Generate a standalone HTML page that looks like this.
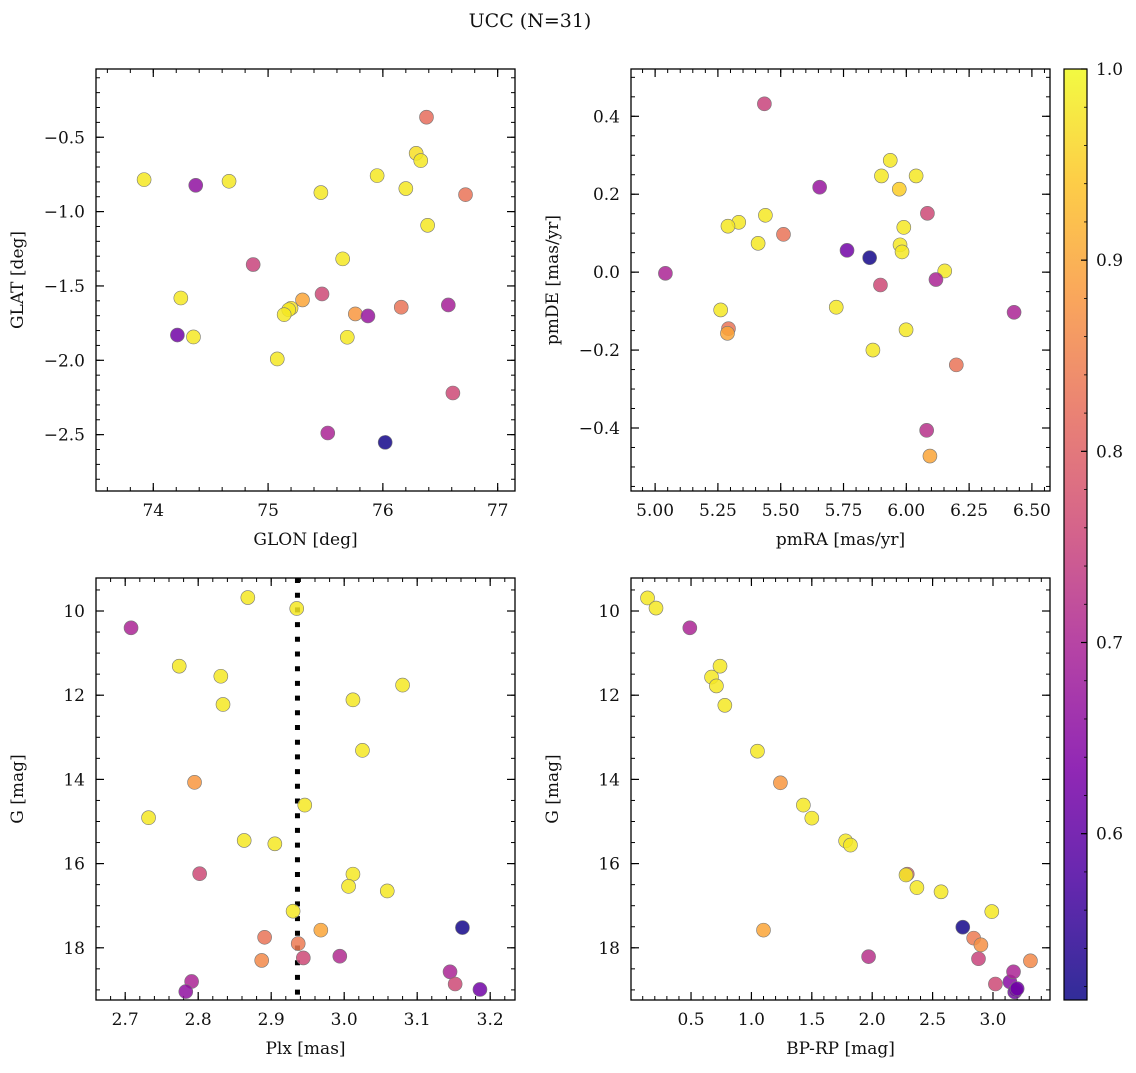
<!DOCTYPE html>
<html><head><meta charset="utf-8"><style>
body{margin:0;background:#fff;width:1136px;height:1068px;overflow:hidden}
svg text{font-family:"DejaVu Serif","Liberation Serif",serif;fill:#111}
</style></head><body>
<svg id="fig" width="1136" height="1068" xmlns="http://www.w3.org/2000/svg">
<text x="530" y="27" font-size="19" text-anchor="middle">UCC (N=31)</text>
<defs><linearGradient id="cbg" x1="0" y1="1" x2="0" y2="0">
<stop offset="0" stop-color="#0d0887"/><stop offset="0.13" stop-color="#4c02a1"/><stop offset="0.25" stop-color="#7e03a8"/><stop offset="0.38" stop-color="#a92395"/><stop offset="0.5" stop-color="#cc4778"/><stop offset="0.63" stop-color="#e66c5c"/><stop offset="0.75" stop-color="#f89540"/><stop offset="0.88" stop-color="#fdc527"/><stop offset="1" stop-color="#f0f921"/></linearGradient></defs>
</svg>
<script>
const tlX=[73.92,74.37,74.66,75.46,75.95,76.29,76.33,76.38,76.20,76.72,76.39,74.87,75.65,74.24,75.47,75.30,75.20,75.18,75.14,75.76,75.87,76.16,76.57,74.21,74.35,75.69,75.08,76.61,75.52,76.02];
const tlY=[-0.785,-0.823,-0.796,-0.872,-0.758,-0.608,-0.657,-0.365,-0.845,-0.886,-1.092,-1.356,-1.318,-1.581,-1.554,-1.594,-1.650,-1.660,-1.693,-1.688,-1.702,-1.643,-1.628,-1.830,-1.843,-1.845,-1.991,-2.220,-2.489,-2.552];
const tlP=[0.98,0.66,0.98,0.98,0.98,0.97,0.98,0.82,0.98,0.83,0.98,0.75,0.98,0.98,0.76,0.9,0.97,0.98,0.98,0.88,0.67,0.83,0.69,0.62,0.98,0.98,0.98,0.76,0.7,0.52];
const trX=[5.435,5.936,5.901,6.039,5.972,5.655,6.084,5.990,5.439,5.333,5.290,5.511,5.410,5.764,5.854,5.975,5.983,5.041,6.153,6.118,5.897,5.261,5.721,5.292,5.288,5.999,5.867,6.199,6.429,6.081,6.094];
const trY=[0.432,0.287,0.247,0.247,0.213,0.218,0.151,0.115,0.146,0.128,0.118,0.097,0.074,0.056,0.037,0.070,0.052,-0.003,0.003,-0.019,-0.033,-0.097,-0.090,-0.145,-0.157,-0.148,-0.200,-0.238,-0.103,-0.406,-0.472];
const trP=[0.75,0.98,0.98,0.98,0.95,0.67,0.76,0.98,0.98,0.98,0.98,0.83,0.98,0.62,0.52,0.98,0.98,0.7,0.98,0.7,0.76,0.98,0.98,0.83,0.9,0.98,0.98,0.83,0.7,0.72,0.9];
const blX=[2.868,2.935,2.708,2.774,2.831,2.834,3.080,3.012,3.025,2.795,2.946,2.732,2.863,2.905,2.802,3.012,3.006,3.059,2.930,3.162,2.968,2.891,2.937,2.887,2.944,2.994,2.791,2.783,3.145,3.152,3.186];
const blY=[9.68,9.94,10.40,11.31,11.55,12.22,11.76,12.11,13.31,14.07,14.61,14.91,15.45,15.53,16.24,16.25,16.54,16.65,17.13,17.52,17.58,17.75,17.90,18.30,18.24,18.20,18.80,19.04,18.57,18.86,18.99];
const blP=[0.98,0.98,0.7,0.98,0.98,0.98,0.98,0.98,0.98,0.88,0.98,0.98,0.98,0.98,0.76,0.98,0.98,0.98,0.98,0.52,0.9,0.83,0.84,0.86,0.76,0.71,0.7,0.66,0.7,0.76,0.62];
const brX=[0.14,0.21,0.49,0.74,0.67,0.71,0.78,1.05,1.24,1.43,1.50,1.78,1.82,2.29,2.28,2.37,2.57,2.99,1.10,1.97,2.75,2.84,2.90,2.88,3.31,3.02,3.14,3.17,3.18,3.19,3.20];
const brY=[9.69,9.93,10.40,11.31,11.57,11.78,12.24,13.33,14.08,14.61,14.92,15.46,15.56,16.25,16.27,16.57,16.67,17.14,17.58,18.21,17.51,17.77,17.93,18.26,18.31,18.86,18.81,18.57,19.05,19.00,18.97];
const brP=[0.98,0.98,0.7,0.98,0.98,0.98,0.98,0.98,0.88,0.98,0.98,0.98,0.98,0.8,0.98,0.98,0.98,0.98,0.9,0.72,0.52,0.84,0.87,0.75,0.86,0.76,0.65,0.7,0.62,0.62,0.62];
const plxLine=2.936;
const cbTicks=[0.6,0.7,0.8,0.9,1.0];
const pMin=0.513, pMax=1.0;

const NS='http://www.w3.org/2000/svg';
const svg=document.getElementById('fig');
function mk(tag,attrs,parent){const e=document.createElementNS(NS,tag);for(const k in attrs)e.setAttribute(k,attrs[k]);(parent||svg).appendChild(e);return e;}
const stops=[[0,[13,8,135]],[0.13,[76,2,161]],[0.25,[126,3,168]],[0.38,[169,35,149]],[0.5,[204,71,120]],[0.63,[230,108,92]],[0.75,[248,149,64]],[0.88,[253,197,39]],[1,[240,249,33]]];
function plasma(p){let t=(p-pMin)/(pMax-pMin);t=Math.max(0,Math.min(1,t));for(let i=1;i<stops.length;i++){if(t<=stops[i][0]){const a=stops[i-1],b=stops[i];const f=(t-a[0])/(b[0]-a[0]);const c=a[1].map((v,j)=>Math.round(v+(b[1][j]-v)*f));return 'rgb('+c.join(',')+')';}}return 'rgb(240,249,33)';}

function panel(o){
  const g=mk('g',{});
  
  
  const sx=v=>o.x0+(v-o.xmin)/(o.xmax-o.xmin)*(o.x1-o.x0);
  const sy=v=>o.inv? o.y0+(v-o.ymin)/(o.ymax-o.ymin)*(o.y1-o.y0) : o.y1-(v-o.ymin)/(o.ymax-o.ymin)*(o.y1-o.y0);
  const tk=(lo,hi,step)=>{const r=[];const n0=Math.ceil(lo/step-1e-6);for(let n=n0;n*step<=hi+1e-9;n++)r.push(n*step);return r;};
  tk(o.xmin,o.xmax,o.xminor).forEach(v=>{const x=sx(v);mk('line',{x1:x,x2:x,y1:o.y1,y2:o.y1-4,stroke:'#000','stroke-width':1},g);mk('line',{x1:x,x2:x,y1:o.y0,y2:o.y0+4,stroke:'#000','stroke-width':1},g);});
  tk(o.ymin,o.ymax,o.yminor).forEach(v=>{const y=sy(v);mk('line',{x1:o.x0,x2:o.x0+4,y1:y,y2:y,stroke:'#000','stroke-width':1},g);mk('line',{x1:o.x1,x2:o.x1-4,y1:y,y2:y,stroke:'#000','stroke-width':1},g);});
  o.xt.forEach(v=>{const x=sx(v);mk('line',{x1:x,x2:x,y1:o.y1,y2:o.y1-8,stroke:'#000','stroke-width':1.2},g);mk('line',{x1:x,x2:x,y1:o.y0,y2:o.y0+8,stroke:'#000','stroke-width':1.2},g);
    const t=mk('text',{x:x,y:o.y1+25,'font-size':17,'text-anchor':'middle'},g);t.textContent=v.toFixed(o.xd);
    
    });
  o.yt.forEach(v=>{const y=sy(v);mk('line',{x1:o.x0,x2:o.x0+8,y1:y,y2:y,stroke:'#000','stroke-width':1.2},g);mk('line',{x1:o.x1,x2:o.x1-8,y1:y,y2:y,stroke:'#000','stroke-width':1.2},g);
    const t=mk('text',{x:o.x0-11,y:y+6,'font-size':17,'text-anchor':'end'},g);t.textContent=(v<0?'\u2212':'')+Math.abs(v).toFixed(o.yd);
    
    });
  const xl=mk('text',{x:(o.x0+o.x1)/2,y:o.y1+54,'font-size':17,'text-anchor':'middle'},g);xl.textContent=o.xlab;
  
  
  const yx=o.x0-73, yy=(o.y0+o.y1)/2;
  const yl=mk('text',{x:yx,y:yy,'font-size':17,'text-anchor':'middle',transform:'rotate(-90 '+yx+' '+yy+')'},g);yl.textContent=o.ylab;
  
  
  if(o.vline!==undefined){const l=mk('line',{x1:sx(o.vline),x2:sx(o.vline),y1:o.y0,y2:o.y1,stroke:'#000','stroke-width':5,'stroke-dasharray':'5,9.7'},g);
    
    }
  o.X.forEach((v,i)=>{const c=mk('circle',{cx:sx(v),cy:sy(o.Y[i]),r:7,fill:plasma(o.P[i]),'fill-opacity':0.85,stroke:'#777','stroke-width':0.6},g);
    
    });
  mk('rect',{x:o.x0,y:o.y0,width:o.x1-o.x0,height:o.y1-o.y0,fill:'none',stroke:'#000','stroke-width':1.3},g);
}
panel({name:'glon-glat-panel',x0:96,x1:515,y0:69,y1:491,xmin:73.501,xmax:77.151,ymin:-2.879,ymax:-0.041,xt:[74,75,76,77],xd:0,xminor:0.2,yt:[-2.5,-2,-1.5,-1,-0.5],yd:1,yminor:0.1,X:tlX,Y:tlY,P:tlP,xlab:'GLON [deg]',ylab:'GLAT [deg]'});
panel({name:'pm-panel',x0:631,x1:1050,y0:69,y1:491,xmin:4.904,xmax:6.572,ymin:-0.5617,ymax:0.5214,xt:[5,5.25,5.5,5.75,6,6.25,6.5],xd:2,xminor:0.05,yt:[-0.4,-0.2,0,0.2,0.4],yd:1,yminor:0.05,X:trX,Y:trY,P:trP,xlab:'pmRA [mas/yr]',ylab:'pmDE [mas/yr]'});
panel({name:'plx-g-panel',x0:96,x1:515,y0:578,y1:1000,inv:true,xmin:2.660,xmax:3.234,ymin:9.216,ymax:19.240,xt:[2.7,2.8,2.9,3.0,3.1,3.2],xd:1,xminor:0.02,yt:[10,12,14,16,18],yd:0,yminor:0.5,X:blX,Y:blY,P:blP,xlab:'Plx [mas]',ylab:'G [mag]',vline:plxLine});
panel({name:'cmd-panel',x0:631,x1:1050,y0:578,y1:1000,inv:true,xmin:0.003,xmax:3.472,ymin:9.216,ymax:19.240,xt:[0.5,1,1.5,2,2.5,3],xd:1,xminor:0.1,yt:[10,12,14,16,18],yd:0,yminor:0.5,X:brX,Y:brY,P:brP,xlab:'BP-RP [mag]',ylab:'G [mag]'});
const cb=mk('g',{});


mk('rect',{x:1064,y:69,width:23,height:931,fill:'url(#cbg)','fill-opacity':0.85,stroke:'#000','stroke-width':1.2},cb);
cbTicks.forEach(v=>{const y=1000-(v-pMin)/(pMax-pMin)*931;mk('line',{x1:1087,x2:1081,y1:y,y2:y,stroke:'#000','stroke-width':1.2},cb);
  const t=mk('text',{x:1096,y:y+6,'font-size':17},cb);t.textContent=v.toFixed(1);
  
  });
for(let n=26;n<=50;n++){const v=n*0.02;const y=1000-(v-pMin)/(pMax-pMin)*931;mk('line',{x1:1087,x2:1084,y1:y,y2:y,stroke:'#000','stroke-width':0.8},cb);}
</script>
</body></html>
